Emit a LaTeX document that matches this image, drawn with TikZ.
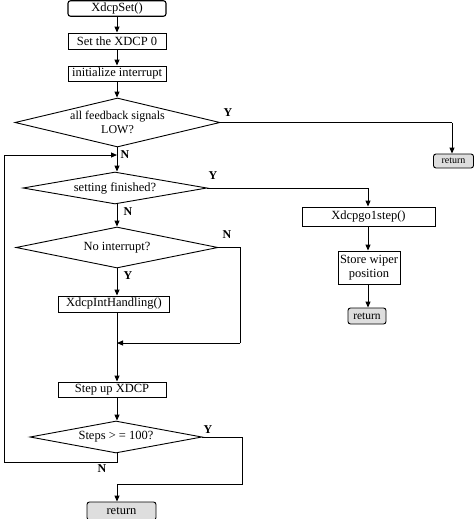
\documentclass[tikz,border=0pt]{standalone}
\usepackage{fontspec}
\setmainfont{Liberation Serif}
\usetikzlibrary{shapes.geometric,arrows.meta}
\begin{document}
\begin{tikzpicture}[x=1pt,y=-1pt,
  every node/.style={font=\fontsize{12.5}{14}\selectfont},
  box/.style={draw,line width=0.9pt,inner sep=0pt,minimum height=16pt,fill=white},
  startbox/.style={box,rounded corners=2.5pt,line width=1.1pt},
  retbox/.style={draw,line width=0.9pt,rounded corners=2.5pt,inner sep=0pt,fill=black!13,font=\fontsize{10}{11}\selectfont},
  dia/.style={draw,diamond,line width=0.9pt,inner sep=0pt},
  yn/.style={font=\bfseries\fontsize{12}{13}\selectfont,inner sep=0pt},
  ln/.style={line width=1pt},
  arr/.style={ln,-{Triangle[length=6pt,width=5pt]}}]
\useasboundingbox (0,0) rectangle (474,519);
% main column nodes
\node[startbox,minimum width=98pt,minimum height=15.5pt] (set) at (117,8.5) {XdcpSet()};
\node[box,minimum width=98pt] (zero) at (117,41) {Set the XDCP 0};
\node[box,minimum width=98pt,minimum height=15pt] (init) at (117,73.5) {initialize interrupt};
\node[dia,minimum width=205pt,minimum height=49pt] (d1) at (117.5,122.5) {};
\node[align=center,font=\fontsize{12}{14}\selectfont] at (d1) {all feedback signals\\LOW?};
\node[dia,minimum width=184pt,minimum height=32pt] (d2) at (115,188) {};
\node at (d2) {setting finished?};
\node[dia,minimum width=202pt,minimum height=41pt] (d3) at (117,247.5) {};
\node at (d3) {No interrupt?};
\node[box,minimum width=111pt] (hand) at (114,304) {XdcpIntHandling()};
\node[box,minimum width=108pt,minimum height=15pt] (stepup) at (112,389.5) {Step up XDCP};
\node[dia,minimum width=172pt,minimum height=32pt] (d4) at (116,437) {};
\node at (d4) {Steps > = 100?};
\node[retbox,minimum width=69pt,minimum height=18pt,font=\fontsize{12.5}{14}\selectfont] (ret1) at (121.5,511) {return};
% right column
\node[retbox,minimum width=40pt,minimum height=14pt] (ret0) at (453.5,161) {return};
\node[box,minimum width=133pt,minimum height=19pt] (go) at (368.5,216.5) {Xdcpgo1step()};
\node[box,minimum width=62pt,minimum height=33pt,align=center] (store) at (369,267.5) {Store wiper\\position};
\node[retbox,minimum width=38pt,minimum height=16pt,font=\fontsize{11.5}{12}\selectfont] (ret2) at (367,316) {return};
% coordinates
\coordinate (m) at (117,0);
\coordinate (loopin) at (117,155);
\coordinate (j1) at (452,122.5);
\coordinate (j2) at (368,188);
\coordinate (j3a) at (240,247.5);
\coordinate (j3b) at (240,343);
\coordinate (merge) at (117,343);
\coordinate (j4a) at (242,437);
\coordinate (j4b) at (242,484);
\coordinate (j4c) at (117,484);
\coordinate (lp1) at (117,462);
\coordinate (lp2) at (4,462);
\coordinate (lp3) at (4,155);
% connectors
\draw[arr] (set.south -| m) -- (zero.north -| m);
\draw[arr] (zero.south -| m) -- (init.north -| m);
\draw[arr] (init.south -| m) -- (d1.north -| m);
\draw[ln] (d1.east) -- (j1);
\draw[arr] (j1) -- (ret0.north -| j1);
\draw[arr] (d1.south -| m) -- (d2.north -| m);
\draw[ln] (d2.east) -- (j2);
\draw[arr] (j2) -- (go.north -| j2);
\draw[arr] (go.south -| j2) -- (store.north -| j2);
\draw[arr] (store.south -| j2) -- (ret2.north -| j2);
\draw[arr] (d2.south -| m) -- (d3.north -| m);
\draw[arr] (d3.south -| m) -- (hand.north -| m);
\draw[ln] (d3.east) -- (j3a) -- (j3b);
\draw[arr] (j3b) -- (merge);
\draw[arr] (hand.south -| m) -- (stepup.north -| m);
\draw[arr] (stepup.south -| m) -- (d4.north -| m);
\draw[ln] (d4.east) -- (j4a) -- (j4b) -- (j4c);
\draw[arr] (j4c) -- (ret1.north -| m);
\draw[ln] (d4.south -| m) -- (lp1) -- (lp2) -- (lp3);
\draw[arr] (lp3) -- (loopin);
% labels
\node[yn] at (228,113) {Y};
\node[yn] at (125,155) {N};
\node[yn] at (213,176) {Y};
\node[yn] at (128,212) {N};
\node[yn] at (227,235) {N};
\node[yn] at (128,276) {Y};
\node[yn] at (208,430) {Y};
\node[yn] at (102,469) {N};
\end{tikzpicture}
\end{document}
